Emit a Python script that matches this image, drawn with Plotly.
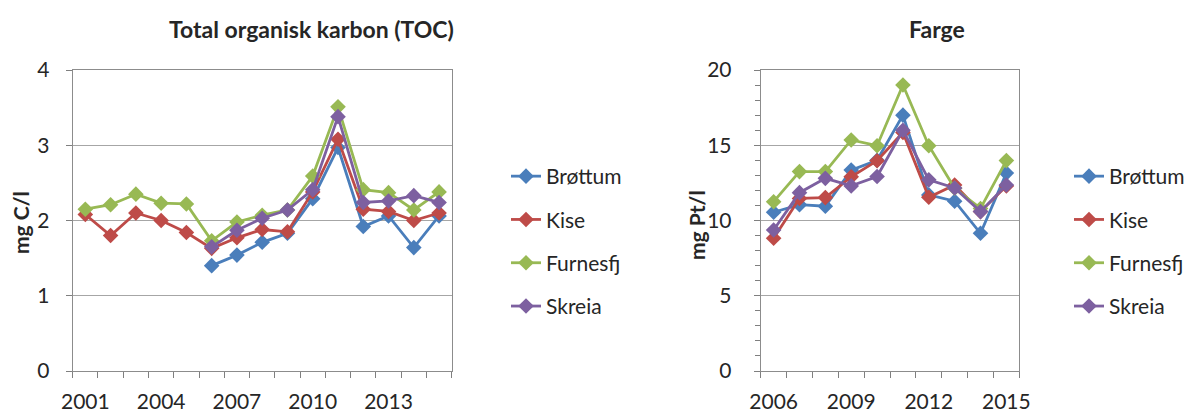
import plotly.graph_objects as go

# ---- data ----
years_toc = [2001, 2002, 2003, 2004, 2005, 2006, 2007, 2008, 2009, 2010, 2011, 2012, 2013, 2014, 2015]
toc_brottum = [None, None, None, None, None, 1.40, 1.54, 1.71, 1.83, 2.29, 2.97, 1.92, 2.06, 1.64, 2.06]
toc_kise = [2.08, 1.80, 2.10, 2.00, 1.84, 1.63, 1.77, 1.88, 1.85, 2.38, 3.08, 2.15, 2.12, 2.00, 2.10]
toc_furnesfj = [2.15, 2.21, 2.35, 2.23, 2.22, 1.73, 1.98, 2.07, 2.14, 2.59, 3.51, 2.41, 2.37, 2.14, 2.38]
toc_skreia = [None, None, None, None, None, 1.65, 1.87, 2.03, 2.14, 2.41, 3.38, 2.24, 2.26, 2.33, 2.24]

years_farge = [2006, 2007, 2008, 2009, 2010, 2011, 2012, 2013, 2014, 2015]
farge_brottum = [10.55, 11.05, 10.95, 13.35, 14.0, 17.0, 11.7, 11.28, 9.15, 13.15]
farge_kise = [8.82, 11.47, 11.52, 12.9, 13.97, 15.85, 11.54, 12.36, 10.59, 12.3]
farge_furnesfj = [11.25, 13.25, 13.25, 15.35, 14.97, 19.0, 14.97, 12.14, 10.8, 13.98]
farge_skreia = [9.37, 11.85, 12.8, 12.3, 12.92, 16.0, 12.7, 12.16, 10.59, 12.36]

series_names = ["Brøttum", "Kise", "Furnesfj", "Skreia"]
colors = ["#4A7EBB", "#BE4B48", "#98B954", "#7D60A0"]

FONT = "Lato"
TXT = "#262626"
W, H = 1190, 412

fig = go.Figure()

toc_series = [toc_brottum, toc_kise, toc_furnesfj, toc_skreia]
farge_series = [farge_brottum, farge_kise, farge_furnesfj, farge_skreia]

for i, (name, ys) in enumerate(zip(series_names, toc_series)):
    fig.add_trace(go.Scatter(
        x=years_toc, y=ys, name=name, mode="lines+markers",
        line=dict(color=colors[i], width=2.8),
        marker=dict(symbol="diamond", size=12, color=colors[i]),
        xaxis="x", yaxis="y", legend="legend", legendgroup="a%d" % i,
        connectgaps=False,
    ))
for i, (name, ys) in enumerate(zip(series_names, farge_series)):
    fig.add_trace(go.Scatter(
        x=years_farge, y=ys, name=name, mode="lines+markers",
        line=dict(color=colors[i], width=2.8),
        marker=dict(symbol="diamond", size=12, color=colors[i]),
        xaxis="x2", yaxis="y2", legend="legend2", legendgroup="b%d" % i,
    ))

def px_x(p):
    return p / W

def px_y(p):
    return 1 - p / H

ydom = [px_y(371), px_y(70)]
axis_common = dict(
    showline=True, linecolor="#8c8c8c", linewidth=1, mirror=True,
    tickfont=dict(family=FONT, size=21, color=TXT),
    zeroline=False, automargin=False,
)

fig.update_layout(
    width=W, height=H,
    margin=dict(l=0, r=0, t=0, b=0, autoexpand=False),
    paper_bgcolor="white", plot_bgcolor="white",
    font=dict(family=FONT, size=21, color=TXT),
    xaxis=dict(
        domain=[px_x(72.7), px_x(451.7)], anchor="y",
        range=[2000.5, 2015.5], tickmode="linear", tick0=2001, dtick=3,
        ticks="outside", ticklen=0, showgrid=False, ticklabelstandoff=12,
        minor=dict(tickmode="linear", tick0=2000.5, dtick=1, ticks="outside",
                   ticklen=6, tickcolor="#7f7f7f", showgrid=False),
        **axis_common,
    ),
    yaxis=dict(
        domain=ydom, anchor="x",
        range=[0, 4], tickmode="linear", tick0=0, dtick=1,
        ticks="outside", ticklen=6, tickcolor="#7f7f7f", ticklabelstandoff=12,
        showgrid=True, gridcolor="#a6a6a6", gridwidth=1,
        **axis_common,
    ),
    xaxis2=dict(
        domain=[px_x(760.7), px_x(1019.3)], anchor="y2",
        range=[2005.5, 2015.5], tickmode="linear", tick0=2006, dtick=3,
        ticks="outside", ticklen=0, showgrid=False, ticklabelstandoff=12,
        minor=dict(tickmode="linear", tick0=2005.5, dtick=1, ticks="outside",
                   ticklen=6, tickcolor="#7f7f7f", showgrid=False),
        **axis_common,
    ),
    yaxis2=dict(
        domain=ydom, anchor="x2",
        range=[0, 20], tickmode="linear", tick0=0, dtick=5,
        ticks="outside", ticklen=6, tickcolor="#7f7f7f", ticklabelstandoff=18,
        showgrid=True, gridcolor="#a6a6a6", gridwidth=1,
        minor=dict(tickmode="linear", tick0=0, dtick=1, ticks="outside",
                   ticklen=5, tickcolor="#7f7f7f", showgrid=False),
        **axis_common,
    ),
    legend=dict(
        x=px_x(506), y=px_y(156), xanchor="left", yanchor="top",
        font=dict(family=FONT, size=21, color=TXT),
        tracegroupgap=13, bgcolor="rgba(0,0,0,0)",
    ),
    legend2=dict(
        x=px_x(1069), y=px_y(156), xanchor="left", yanchor="top",
        font=dict(family=FONT, size=21, color=TXT),
        tracegroupgap=13, bgcolor="rgba(0,0,0,0)",
    ),
    annotations=[
        dict(text="<b>Total organisk karbon (TOC)</b>", x=px_x(311), y=px_y(29),
             xref="paper", yref="paper", showarrow=False, xanchor="center", yanchor="middle",
             font=dict(family=FONT, size=23, color=TXT)),
        dict(text="<b>Farge</b>", x=px_x(937), y=px_y(29),
             xref="paper", yref="paper", showarrow=False, xanchor="center", yanchor="middle",
             font=dict(family=FONT, size=23, color=TXT)),
        dict(text="<b>mg C/l</b>", x=px_x(20), y=px_y(223), textangle=-90,
             xref="paper", yref="paper", showarrow=False, xanchor="center", yanchor="middle",
             font=dict(family=FONT, size=21, color=TXT)),
        dict(text="<b>mg Pt/l</b>", x=px_x(696), y=px_y(225), textangle=-90,
             xref="paper", yref="paper", showarrow=False, xanchor="center", yanchor="middle",
             font=dict(family=FONT, size=21, color=TXT)),
    ],
)

fig.write_html(
    "out.html",
    config={"displayModeBar": False},
    post_script="document.body.style.margin='0px';document.body.style.padding='0px';",
)
